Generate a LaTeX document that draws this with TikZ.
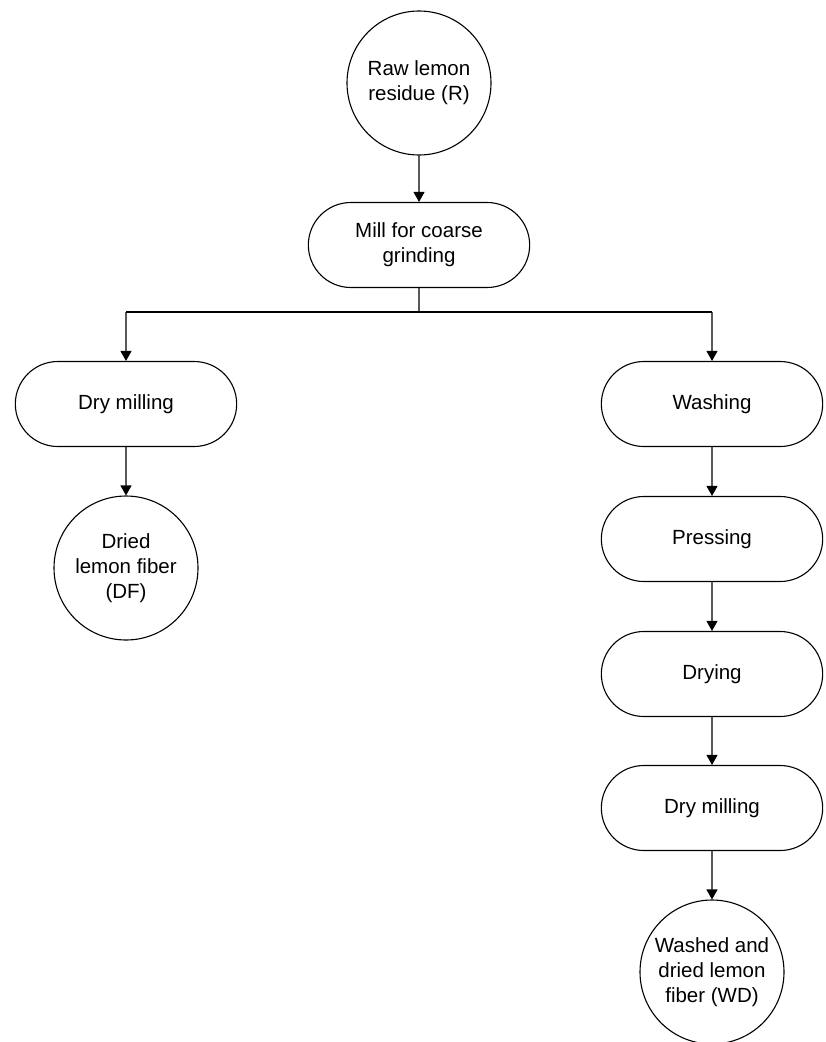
\documentclass[tikz,border=0pt]{standalone}
\usepackage{fontspec}
\setmainfont{Liberation Sans}
\usepackage{tikz}
\usetikzlibrary{arrows.meta,positioning,calc,shapes.misc}
\tikzset{
  product/.style={circle,draw=black,line width=1.1pt,minimum size=144pt,inner sep=0pt,align=center,font=\fontsize{20.5}{25}\selectfont},
  stage/.style={rounded rectangle,draw=black,line width=1.1pt,minimum width=228pt,minimum height=85pt,align=center,font=\fontsize{20.5}{25}\selectfont},
  flow/.style={-{Triangle[width=11pt,length=10pt]},line width=1.1pt,draw=black},
  joint/.style={line width=1.1pt,draw=black}
}
\begin{document}
\begin{tikzpicture}[x=1pt,y=-1pt]
\useasboundingbox (0,0) rectangle (826,1042);
\coordinate (split) at (419,312);
\coordinate (splitL) at (126,312);
\coordinate (splitR) at (712,312);

\node[product] (raw) at (419,83) {Raw lemon\\residue (R)};
\node[stage] (mill) at (419,245) {Mill for coarse\\grinding};
\node[stage] (drymillL) at (126,404) {Dry milling};
\node[product] (df) at (126,568) {Dried\\lemon fiber\\(DF)};
\node[stage] (wash) at (712,404) {Washing};
\node[stage] (press) at (712,539) {Pressing};
\node[stage] (dry) at (712,674) {Drying};
\node[stage] (drymillR) at (712,808) {Dry milling};
\node[product] (wd) at (712,972) {Washed and\\dried lemon\\fiber (WD)};

\draw[flow](raw)--(mill);
\draw[joint](mill)--(split);\draw[joint](splitL)--(splitR);
\draw[flow](splitL)--(drymillL);\draw[flow](splitR)--(wash);
\draw[flow](drymillL)--(df);
\draw[flow](wash)--(press);\draw[flow](press)--(dry);\draw[flow](dry)--(drymillR);\draw[flow](drymillR)--(wd);
\end{tikzpicture}
\end{document}
